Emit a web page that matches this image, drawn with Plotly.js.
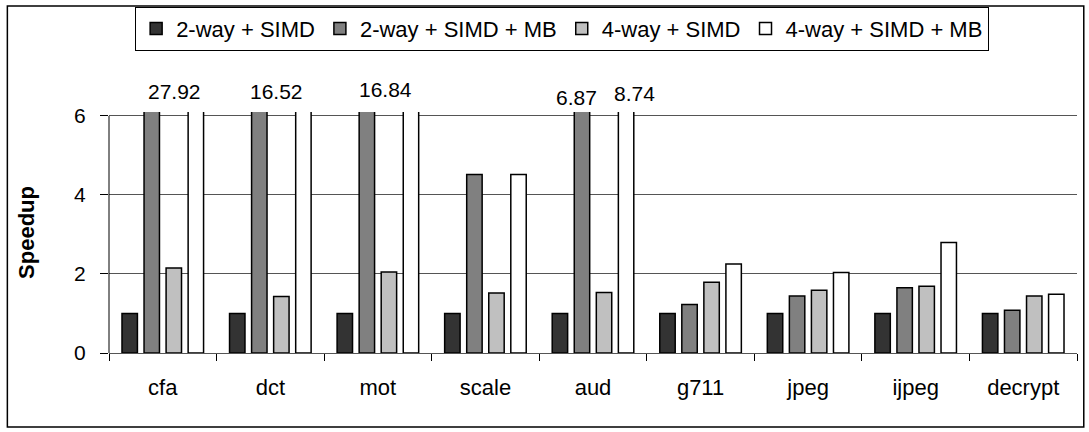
<!DOCTYPE html>
<html>
<head>
<meta charset="utf-8">
<script src="https://cdn.plot.ly/plotly-3.0.1.min.js"></script>
<style>
  html, body { margin: 0; padding: 0; background: #fff; }
  #chart { width: 1089px; height: 432px; }
</style>
</head>
<body>
<div id="chart"></div>
<script>
// ---- data ----
const categories = ["cfa", "dct", "mot", "scale", "aud", "g711", "jpeg", "ijpeg", "decrypt"];
const seriesNames = ["2-way + SIMD", "2-way + SIMD + MB", "4-way + SIMD", "4-way + SIMD + MB"];
const twoWaySIMD   = [1.0, 1.0, 1.0, 1.0, 1.0, 1.0, 1.0, 1.0, 1.0];
const twoWaySIMDMB = [27.92, 16.52, 16.84, 4.52, 6.87, 1.23, 1.44, 1.65, 1.08];
const fourWaySIMD  = [2.15, 1.43, 2.05, 1.52, 1.53, 1.79, 1.59, 1.69, 1.44];
const fourWaySIMDMB= [27.92, 16.52, 16.84, 4.52, 8.74, 2.25, 2.04, 2.80, 1.49];
// labels for values that exceed the axis
const labelCats   = ["cfa", "dct", "mot", "aud", "aud"];
const labelTexts  = ["27.92", "16.52", "16.84", "6.87", "8.74"];
const yTicks = [0, 2, 4, 6];

// ---- styling ----
const colors = ["#333333", "#808080", "#c0c0c0", "#ffffff"];
const labelShift = [12, 6, 8, -17, 41];
const labelY = [1.083, 1.087, 1.095, 1.062, 1.075];
const FONT = "Liberation Sans, Arial, sans-serif";

const seriesVals = [twoWaySIMD, twoWaySIMDMB, fourWaySIMD, fourWaySIMDMB];
const traces = seriesVals.map((vals, i) => ({
  type: "bar",
  name: seriesNames[i],
  x: categories,
  y: vals,
  marker: { color: colors[i], line: { color: "#000000", width: 1.5 } },
  hoverinfo: "x+y+name"
}));

const annotations = labelTexts.map((t, i) => ({
  x: labelCats[i], y: labelY[i], xref: "x", yref: "paper",
  text: t, showarrow: false, xshift: labelShift[i],
  yanchor: "middle", xanchor: "center",
  font: { family: FONT, size: 21, color: "#000" }
}));

const layout = {
  width: 1089, height: 432,
  margin: { l: 109, r: 12, t: 112, b: 79, pad: 0, autoexpand: false },
  paper_bgcolor: "#ffffff",
  plot_bgcolor: "#ffffff",
  font: { family: FONT, size: 21, color: "#000" },
  barmode: "group",
  bargap: 0.18,
  bargroupgap: 0.3,
  showlegend: true,
  legend: {
    orientation: "h",
    x: 0.027, xanchor: "left",
    y: 1.437, yanchor: "top",
    bgcolor: "#ffffff",
    bordercolor: "#000000",
    borderwidth: 1,
    font: { family: FONT, size: 22, color: "#000" },
    traceorder: "normal",
    itemwidth: 30
  },
  xaxis: {
    type: "category",
    automargin: false,
    showgrid: false,
    showline: true,
    linecolor: "#555555",
    linewidth: 1,
    ticks: "outside",
    tickson: "boundaries",
    ticklen: 7,
    tickcolor: "#000",
    ticklabelstandoff: 15,
    tickfont: { family: FONT, size: 22, color: "#000" },
    fixedrange: true
  },
  yaxis: {
    automargin: false,
    range: [0, 6.1],
    tickvals: yTicks,
    ticktext: yTicks.map(String),
    showgrid: true,
    gridcolor: "#555555",
    gridwidth: 1,
    showline: false,
    zeroline: false,
    ticks: "outside",
    ticklen: 8,
    tickcolor: "#000",
    ticklabelstandoff: 10,
    tickfont: { family: FONT, size: 21, color: "#000" },
    title: { text: "<b>Speedup</b>", standoff: 33, font: { family: FONT, size: 22, color: "#000" } },
    fixedrange: true
  },
  shapes: [
    // y axis line from 0 to 6
    { type: "line", xref: "paper", yref: "y", x0: 0, x1: 0, y0: 0, y1: 6, line: { color: "#000", width: 1 } },
    // outer chart frame
    { type: "rect", xref: "paper", yref: "paper", x0: -0.105, x1: 1.007, y0: -0.307, y1: 1.44, line: { color: "#000", width: 1.5 }, fillcolor: "rgba(0,0,0,0)" }
  ],
  annotations: annotations
};

Plotly.newPlot("chart", traces, layout, { displayModeBar: false, staticPlot: true });
</script>
</body>
</html>
